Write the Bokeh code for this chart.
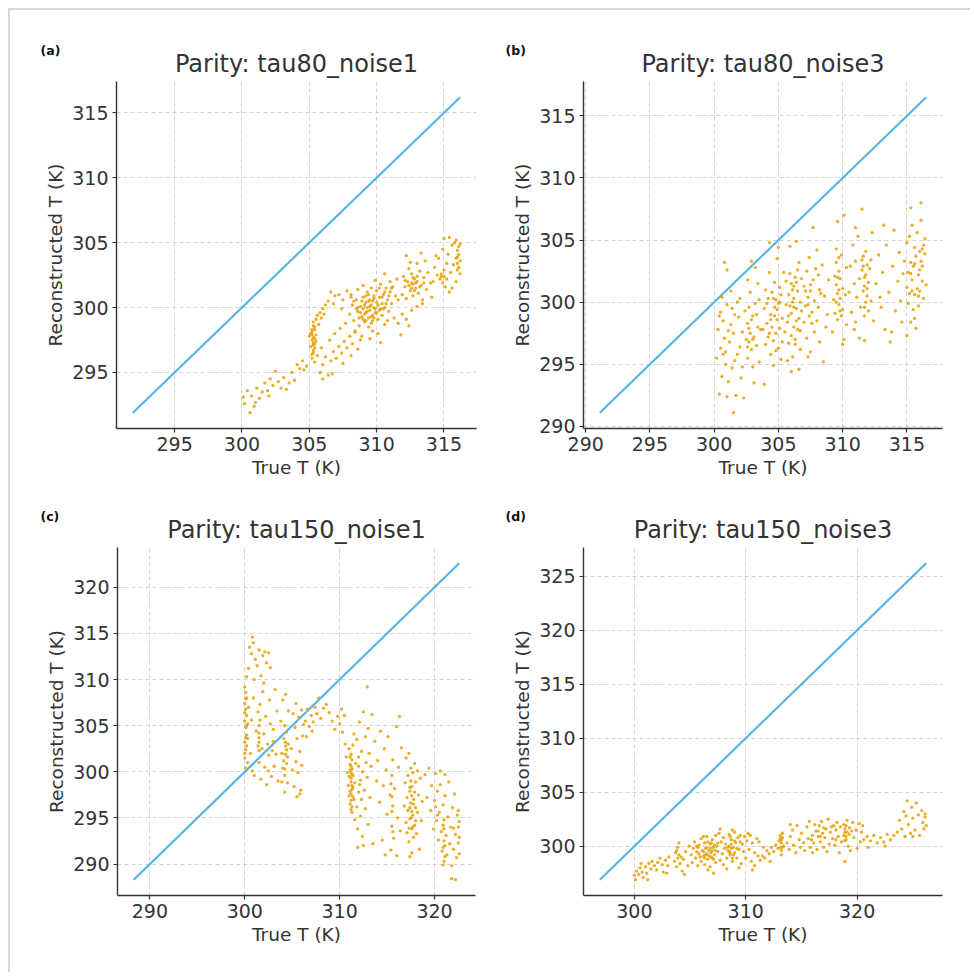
from bokeh.plotting import figure
from bokeh.layouts import column, row
from bokeh.models import Range1d, FixedTicker, Title
from bokeh.embed import file_html
from bokeh.resources import INLINE

# ---------------- data (True T, Reconstructed T) ----------------
titles = ["Parity: tau80_noise1", "Parity: tau80_noise3",
          "Parity: tau150_noise1", "Parity: tau150_noise3"]
letters = ["(a)", "(b)", "(c)", "(d)"]
x_label = "True T (K)"
y_label = "Reconstructed T (K)"

a_xticks = [295, 300, 305, 310, 315]
a_yticks = [295, 300, 305, 310, 315]
b_xticks = [290, 295, 300, 305, 310, 315]
b_yticks = [290, 295, 300, 305, 310, 315]
c_xticks = [290, 300, 310, 320]
c_yticks = [290, 295, 300, 305, 310, 315, 320]
d_xticks = [300, 310, 320]
d_yticks = [300, 305, 310, 315, 320, 325]

a_points = [
    (300.1,293.1),(300.2,292.6),(300.4,293.6),(300.6,291.9),(300.7,293.2),(300.9,292.4),(301.1,293.8),
    (301.3,293.0),(301.5,293.5),(301.7,294.2),(301.9,293.6),(302.1,294.5),(302.3,294.0),(302.5,295.1),
    (302.7,294.3),(302.9,293.8),(303.1,294.6),(303.3,293.7),(303.5,294.2),(303.7,295.0),(303.9,294.4),
    (304.1,295.6),(304.3,295.3),(304.5,295.9),(304.8,295.5),(304.6,295.2),(302.0,293.2),(301.0,292.7),
    (305.2,296.4),(305.3,296.7),(305.1,297.0),(305.4,297.2),(305.2,297.5),(305.3,297.7),(305.5,297.9),
    (305.2,298.1),(305.4,298.3),(305.3,298.6),(305.1,298.0),(305.4,296.9),(305.5,297.4),(305.3,298.9),
    (305.5,299.1),(305.6,299.4),(305.8,299.6),(306.0,299.9),(306.2,300.2),(306.4,300.5),(305.7,298.7),
    (305.9,299.2),(306.1,299.5),(305.2,296.1),(305.4,295.8),(305.6,296.3),(305.0,297.8),(305.3,297.3),
    (305.8,295.0),(306.0,295.6),(306.2,296.2),(306.4,294.8),(306.6,295.9),(306.8,296.6),(307.0,296.1),
    (307.2,297.0),(307.4,296.5),(307.6,297.4),(307.8,296.9),(308.0,297.8),(308.2,297.2),(308.4,298.1),
    (308.6,296.8),(308.8,297.5),(306.5,297.5),(306.9,298.0),(307.3,298.4),(307.7,298.8),(306.0,294.5),
    (306.7,294.9),(307.5,295.7),(308.1,296.3),(305.9,296.9),
    (306.6,301.2),(306.9,300.9),(307.2,301.0),(307.5,300.6),(307.8,301.3),(308.1,300.8),(306.8,300.3),
    (307.4,299.9),
    (308.0,299.5),(308.2,300.2),(308.3,299.0),(308.5,300.6),(308.6,299.7),(308.7,298.6),(308.8,300.1),
    (308.9,299.3),(309.0,300.8),(309.0,299.9),(309.1,298.9),(309.2,300.4),(309.2,299.6),(309.3,301.2),
    (309.3,300.0),(309.4,299.2),(309.4,298.5),(309.5,300.6),(309.5,299.8),(309.6,301.5),(309.6,300.2),
    (309.7,299.4),(309.7,298.2),(309.8,300.9),(309.8,300.0),(309.9,299.6),(310.0,301.3),(310.0,300.4),
    (310.1,299.1),(310.1,298.0),(310.2,300.8),(310.2,299.8),(310.3,301.8),(310.4,300.3),(310.4,299.4),
    (310.5,301.0),(310.6,300.0),(310.6,298.7),(310.7,301.5),(310.8,300.6),(310.9,299.7),(311.0,301.2),
    (311.0,302.0),(311.1,300.3),(311.2,301.6),(311.3,299.2),(311.4,300.9),(311.5,302.2),(308.4,298.2),
    (308.9,297.8),(309.5,297.6),(310.3,297.3),(309.0,301.7),(309.9,302.1),(310.6,302.6),(308.1,301.0),
    (308.6,301.4),(309.6,298.8),(310.8,299.0),(311.6,300.6),(309.2,299.0),(309.4,300.5),(309.8,299.2),
    (310.5,299.9),(308.8,299.6),
    (308.6,300.0),(308.9,300.5),(309.1,299.5),(309.3,299.7),(309.5,300.1),(309.7,300.5),(309.9,299.9),
    (310.1,300.2),(309.0,299.1),(309.2,300.9),(309.6,299.3),(309.8,300.7),(310.3,299.9),(310.0,299.6),
    (309.4,301.0),(308.7,299.2),(308.5,299.9),(310.4,300.8),(310.7,300.3),(310.9,300.9),(311.1,301.5),
    (310.2,301.5),(309.1,300.2),(309.7,299.0),(308.3,300.5),(310.6,301.2),
    (305.3,297.1),(305.2,297.9),(305.4,298.5),(305.3,296.5),(305.2,298.3),(305.4,297.6),
    (311.6,298.8),(311.9,299.5),(312.2,299.1),(312.6,299.8),(313.0,300.1),(313.4,300.3),(311.8,297.9),
    (312.4,298.6),
    (311.9,301.0),(312.0,302.4),(312.1,301.6),(312.2,300.7),(312.3,302.0),(312.4,303.0),(312.5,301.3),
    (312.6,302.6),(312.7,301.8),(312.7,300.9),(312.8,302.2),(312.9,301.5),(313.0,303.4),(313.0,302.0),
    (313.1,301.1),(313.2,302.8),(313.3,301.7),(313.4,300.6),(313.5,302.3),(313.6,303.6),(313.7,301.4),
    (313.8,302.7),(314.0,301.9),(314.1,300.8),(312.5,303.5),(312.2,304.0),(313.3,304.2),(314.3,303.1),
    (312.9,301.9),(312.6,301.5),
    (312.6,301.9),(312.8,301.3),(313.0,302.4),(312.4,301.7),(313.2,301.6),(312.7,302.3),(313.5,301.9),
    (312.1,302.1),
    (314.5,302.5),(314.6,303.8),(314.7,302.2),(314.8,302.6),(314.9,304.5),(315.0,305.3),(315.0,302.9),
    (315.1,301.6),(315.2,303.4),(315.3,304.1),(315.4,301.2),(315.5,302.7),(315.6,304.8),(315.7,303.3),
    (315.8,305.0),(315.9,302.0),(316.0,303.9),(316.0,304.4),(316.1,303.1),(316.1,304.7),(316.2,302.6),
    (316.2,303.6),(315.9,305.2),(315.4,305.4),(314.4,304.0),(314.2,302.0),(316.0,302.9),(315.0,302.4),
    (314.9,301.9),(315.6,301.5),
    (316.0,303.4),(316.1,304.1),(315.9,303.8),(316.2,304.9),(314.8,302.4),(315.2,302.2),
]

b_points = [
    (300.2,295.5),(300.3,297.8),(300.4,292.6),(300.5,299.2),(300.5,296.3),(300.6,294.0),(300.7,298.5),
    (300.8,303.2),(300.8,297.1),(300.9,295.0),(301.0,302.6),(301.0,299.8),(301.1,293.6),(301.2,296.8),
    (301.3,298.2),(301.4,294.7),(301.5,297.5),(301.5,291.1),(301.6,299.0),(301.7,292.5),(301.8,295.8),
    (301.9,298.8),(302.0,296.4),(302.0,300.3),(302.1,293.9),(302.2,297.6),(300.6,300.4),(301.3,300.9),
    (302.2,294.8),(301.0,292.4),(300.4,298.9),(301.8,300.0),(302.3,292.3),(300.9,296.0),(301.6,295.3),
    (301.1,297.7),(301.4,299.5),(300.7,295.8),
    (302.5,297.0),(302.6,298.3),(302.6,295.5),(302.7,299.6),(302.7,296.8),(302.8,297.5),(302.8,300.8),
    (302.9,296.2),(303.0,298.9),(303.0,294.8),(303.1,297.2),(303.2,299.9),(303.2,302.8),(303.3,296.5),
    (303.4,298.0),(303.4,301.5),(303.5,295.2),(303.5,300.2),(302.9,303.3),(303.1,293.5),(302.4,299.3),
    (303.6,297.8),(303.3,299.0),(302.6,301.8),(302.7,297.9),(302.9,298.6),(302.6,296.4),(303.0,297.0),
    (303.8,297.8),(303.9,299.5),(304.0,296.6),(304.0,301.0),(304.1,298.3),(304.2,300.3),(304.2,297.2),
    (304.3,302.4),(304.4,299.0),(304.4,295.8),(304.5,300.8),(304.5,298.0),(304.6,296.9),(304.7,301.6),
    (304.7,299.6),(304.8,297.5),(304.8,300.2),(304.9,303.5),(304.9,298.6),(305.0,296.3),(305.0,299.9),
    (305.1,301.2),(305.1,297.9),(305.2,295.4),(305.2,300.6),(304.3,304.8),(305.0,304.4),(304.6,294.9),
    (303.9,293.4),(305.3,298.7),(304.1,299.9),(304.8,296.1),
    (304.6,300.3),(304.9,299.4),(305.1,300.0),(304.4,298.6),(304.3,297.5),(304.7,298.9),(305.4,302.4),
    (305.3,296.8),
    (305.5,297.6),(305.6,299.8),(305.6,301.7),(305.7,298.4),(305.8,296.7),(305.8,300.6),(305.9,302.3),
    (306.0,299.1),(306.0,297.3),(306.1,301.0),(306.1,295.6),(306.2,300.3),(306.2,298.0),(306.3,302.0),
    (306.3,296.6),(306.4,299.5),(306.4,301.6),(306.5,297.8),(306.5,300.9),(306.6,298.7),(306.6,303.2),
    (306.7,296.2),(306.7,300.0),(306.8,299.3),(306.8,301.9),(305.9,304.5),(306.4,304.9),(306.0,294.4),
    (306.6,294.6),(305.7,295.3),(306.2,299.6),(306.5,302.6),(305.8,298.9),(306.3,297.0),
    (306.1,300.0),(306.2,301.3),(305.9,299.7),(306.4,298.5),(306.0,301.5),(306.7,297.7),
    (307.0,298.4),(307.0,301.3),(307.1,299.7),(307.2,297.1),(307.2,302.5),(307.3,300.4),(307.4,298.9),
    (307.4,303.6),(307.5,300.9),(307.5,296.0),(307.6,299.2),(307.7,301.8),(307.8,297.6),(307.8,300.1),
    (307.9,302.7),(308.0,298.5),(308.0,304.2),(308.1,299.6),(308.2,296.8),(308.2,301.0),(307.3,295.6),
    (308.4,303.0),(308.6,300.5),(308.7,298.0),(308.5,295.2),(307.7,306.0),(308.9,301.8),(308.8,299.0),
    (307.3,299.8),(307.5,301.4),(307.1,300.9),(307.6,298.3),(308.3,300.7),(308.1,302.2),
    (309.3,300.2),(309.4,302.1),(309.4,299.1),(309.5,301.4),(309.5,303.2),(309.6,300.7),(309.6,298.6),
    (309.7,302.5),(309.7,299.8),(309.8,301.9),(309.8,300.3),(309.9,303.8),(309.9,298.9),(310.0,301.1),
    (310.0,299.4),(309.5,304.3),(310.1,297.0),(310.0,296.6),(309.6,306.5),(310.2,300.6),(310.3,302.8),
    (310.1,307.0),(309.2,297.6),(310.3,298.2),
    (309.7,301.0),(309.6,302.0),(309.8,299.3),(309.5,300.0),(309.7,303.6),
    (310.5,300.8),(310.6,302.9),(310.7,299.2),(310.8,304.6),(310.9,301.5),(311.0,298.4),(311.0,303.3),
    (311.1,300.4),(311.2,305.3),(311.3,301.9),(311.4,299.6),(311.5,302.6),(311.5,307.5),(311.6,300.9),
    (311.6,303.7),(311.7,301.3),(311.7,298.9),(311.8,302.2),(311.8,304.1),(311.9,300.5),(311.9,303.0),
    (312.0,301.6),(312.0,299.3),(312.1,302.7),(312.2,300.1),(311.3,297.1),(310.9,297.8),(312.3,305.6),
    (311.0,306.0),(312.4,298.5),(311.7,296.9),(312.2,303.4),
    (311.7,302.0),(311.8,300.0),(311.6,302.9),(311.9,301.1),(311.5,303.4),(311.7,299.6),
    (312.6,301.5),(312.8,303.8),(313.0,299.6),(313.1,302.4),(313.3,297.8),(313.4,304.6),(313.6,300.8),
    (313.7,296.8),(313.9,302.9),(314.0,305.8),(314.1,299.3),(314.3,301.7),(314.4,304.0),(314.6,298.4),
    (314.7,302.3),(313.2,306.2),(313.8,297.6),(314.5,300.1),(312.9,300.4),(314.8,303.3),
    (315.0,301.2),(315.0,304.8),(315.1,302.4),(315.1,299.9),(315.2,305.3),(315.2,300.7),(315.3,303.2),
    (315.3,298.4),(315.4,301.8),(315.4,306.2),(315.5,299.4),(315.5,302.9),(315.6,304.4),(315.6,300.6),
    (315.7,297.9),(315.7,303.7),(315.8,301.1),(315.8,305.6),(315.9,302.2),(315.9,299.7),(316.0,304.1),
    (316.0,300.9),(316.1,303.3),(316.1,306.6),(316.2,301.7),(316.2,302.9),(316.3,304.6),(316.3,300.3),
    (316.4,303.9),(316.5,301.4),(315.3,307.6),(316.1,308.0),(315.6,298.7),(316.4,305.1),(315.0,297.3),
    (315.3,302.3),(315.6,303.1),(315.9,300.5),(316.2,304.3),(315.4,300.9),(316.0,302.6),
]

c_points = [
    (300.0,301.5),(300.1,302.4),(300.0,303.2),(300.2,304.0),(300.1,304.8),(300.0,305.5),(300.2,306.1),
    (300.1,306.8),(300.0,307.4),(300.2,308.0),(300.1,308.6),(300.3,303.6),(300.3,305.2),(300.0,309.2),
    (300.2,310.3),(300.4,307.0),(300.3,301.0),(300.1,300.4),
    (300.0,302.0),(300.1,303.7),(300.2,305.0),(300.0,306.4),(300.1,307.9),(300.2,302.8),
    (300.4,311.2),(300.5,313.5),(300.7,312.8),(300.9,314.0),(301.1,312.2),(301.3,311.5),(301.5,313.2),
    (301.7,310.4),(301.9,312.6),(302.1,313.0),(302.3,311.8),(302.5,312.9),(300.8,314.6),(302.7,311.3),
    (301.0,310.0),(302.0,309.6),
    (300.6,302.0),(300.7,305.6),(300.8,300.1),(300.9,308.0),(301.0,299.6),(301.2,304.4),(301.4,306.5),
    (301.5,301.0),(301.5,303.2),(301.5,305.0),(301.6,307.3),(301.7,299.2),(301.8,302.5),(301.9,308.7),
    (302.0,304.1),(302.1,300.5),(302.2,306.0),(302.3,298.6),(302.4,303.0),(302.5,301.8),(302.6,307.8),
    (302.7,305.2),(302.8,299.5),(302.9,302.3),(303.0,304.6),(303.1,300.6),(303.2,308.9),(303.3,301.9),
    (303.4,306.6),(303.5,299.0),(301.5,302.3),(301.5,304.2),(302.5,300.1),(303.0,303.3),
    (301.5,303.7),(301.6,305.6),(301.4,302.8),
    (303.8,305.5),(303.9,302.0),(304.0,307.8),(304.0,300.4),(304.1,303.6),(304.1,301.2),(304.2,305.0),
    (304.2,299.6),(304.3,302.8),(304.3,308.4),(304.4,300.9),(304.4,304.3),(304.5,298.8),(304.5,301.6),
    (304.6,306.6),(304.2,297.8),(303.9,298.9),(304.6,303.0),
    (304.3,301.9),(304.4,302.4),(304.2,300.3),(304.3,303.2),
    (304.9,302.5),(305.0,300.2),(305.1,306.3),(305.2,298.4),(305.3,304.8),(305.4,301.1),(305.5,297.3),
    (305.5,303.6),(305.6,299.9),(305.7,305.9),(305.8,302.2),(305.9,298.0),(306.0,306.7),(306.0,300.7),
    (306.1,303.9),(306.2,305.1),(305.4,307.4),(305.8,297.6),
    (306.4,305.5),(306.6,306.8),(306.8,304.9),(307.0,306.1),(307.2,305.4),(307.4,307.0),(307.6,306.3),
    (307.8,308.0),(308.0,305.8),(308.3,306.9),(308.6,307.3),(308.9,306.4),(309.2,305.5),(309.5,304.6),
    (306.5,303.8),(307.1,304.4),
    (309.8,306.0),(310.0,305.2),(310.2,306.8),(310.3,304.3),(310.5,306.1),(310.6,303.0),(310.7,301.6),
    (310.8,299.9),(310.9,298.5),(311.0,302.5),(311.0,297.4),(311.1,300.8),(311.1,296.5),(311.2,299.3),
    (311.2,301.9),(311.3,298.1),(311.3,300.3),(311.3,295.6),(311.4,299.6),(311.4,302.9),(311.5,297.0),
    (311.5,304.1),(311.6,298.8),(311.6,294.8),(311.7,300.9),(311.8,296.2),(311.8,303.5),(311.9,293.8),
    (312.0,301.6),(312.0,297.8),(312.1,305.4),(312.2,299.1),(312.2,295.2),(312.3,302.2),(312.4,300.0),
    (312.4,293.0),(312.5,306.5),(312.6,298.0),(312.7,303.8),(312.7,296.0),(312.8,301.0),(312.9,299.4),
    (313.0,304.7),(313.0,294.3),(313.1,302.0),(313.2,297.2),(313.3,300.6),(313.4,306.2),(313.5,292.2),
    (312.9,309.2),(312.5,292.0),(311.9,291.8),
    (311.2,298.9),(311.3,299.7),(311.2,300.6),(311.1,297.9),(311.3,301.3),(311.2,296.9),
    (311.2,299.9),(311.3,298.5),(311.1,300.2),(311.2,297.6),(311.3,296.2),(311.1,301.6),(311.4,298.3),
    (311.2,295.9),(311.0,299.5),(311.4,297.3),(312.1,298.6),(312.3,297.0),(312.0,300.6),
    (313.7,303.3),(313.9,299.0),(314.0,301.2),(314.2,296.7),(314.3,304.4),(314.5,292.6),(314.6,298.5),
    (314.7,302.5),(314.8,291.0),(314.9,300.2),(315.0,295.4),(315.1,303.8),(315.3,297.5),(315.4,291.5),
    (315.5,299.6),(315.5,294.1),(315.6,296.3),(315.6,301.3),(315.7,292.8),(315.8,298.2),(316.0,304.9),
    (316.1,295.0),(316.2,300.5),(316.3,306.0),(316.4,293.6),(316.5,302.6),(316.0,290.9),(315.5,297.3),
    (315.5,295.7),(315.6,293.5),(315.4,298.7),
    (316.8,296.3),(316.9,298.8),(317.0,294.5),(317.0,301.5),(317.1,297.2),(317.1,293.4),(317.2,299.6),
    (317.2,295.8),(317.3,302.0),(317.3,292.4),(317.4,297.9),(317.4,294.9),(317.5,300.4),(317.5,296.6),
    (317.6,293.8),(317.6,298.4),(317.7,295.3),(317.7,299.9),(317.8,292.9),(317.8,297.0),(317.9,294.2),
    (317.9,300.9),(318.0,296.1),(318.0,298.9),(318.1,293.3),(318.2,295.6),(318.2,300.1),(318.3,297.5),
    (318.4,291.6),(318.5,299.3),(318.6,294.7),(318.7,296.8),(317.4,290.8),(317.6,291.2),
    (317.5,295.0),(317.6,297.4),(317.4,296.1),(317.7,294.0),(317.5,299.0),(317.3,293.9),(317.8,296.5),
    (317.6,295.7),(317.4,298.3),(318.0,294.7),(317.9,297.8),
    (319.0,299.7),(319.2,297.2),(319.4,300.4),(319.6,295.8),(319.7,298.5),(319.9,293.8),(320.0,296.9),
    (320.1,299.8),(320.2,294.7),(320.3,297.9),(320.4,292.6),(320.5,295.6),(320.6,298.6),(320.7,293.5),
    (320.8,291.4),(320.9,296.4),(320.9,294.2),(321.0,292.5),(321.0,290.3),(321.1,297.4),(321.2,293.1),
    (321.3,291.0),(321.4,295.1),(321.5,298.9),(321.6,292.2),(321.7,294.0),(321.8,289.8),(321.9,296.1),
    (322.0,291.6),(322.1,297.6),(322.2,293.2),(322.3,290.7),(322.4,295.3),(322.5,292.3),(322.6,294.6),
    (322.6,291.1),(321.8,288.4),(322.2,288.3),(320.6,300.1),(321.1,299.7),(322.0,293.9),(320.9,289.9),
    (321.0,293.8),(321.1,292.0),(320.9,291.8),(321.0,294.8),(321.1,290.8),(322.5,294.0),(322.6,292.9),
    (322.5,295.8),(320.1,296.2),(320.3,295.3),
]

d_points = [
    (300.0,297.3),(300.1,296.9),(300.2,297.7),(300.4,297.4),(300.5,298.0),(300.7,297.6),(300.8,297.1),
    (301.0,298.1),(301.1,297.5),(301.3,298.4),(301.5,297.9),(301.6,298.6),(301.8,298.2),(302.0,297.8),
    (302.1,298.5),(302.3,298.9),(302.5,298.3),(302.6,297.6),(302.8,298.7),(303.0,298.2),(303.1,299.0),
    (301.2,296.9),(300.6,298.4),(302.9,297.5),
    (303.6,298.6),(303.7,299.4),(303.8,298.1),(303.9,299.9),(303.9,298.9),(304.0,300.3),(304.0,299.2),
    (304.1,298.4),(303.8,299.6),(304.2,299.0),(304.3,297.7),(304.4,298.8),(304.6,299.5),(304.8,298.2),
    (304.9,300.0),(304.5,297.4),
    (305.1,299.2),(305.2,298.5),(305.3,299.8),(305.4,300.4),(305.5,298.9),(305.6,299.5),(305.7,298.2),
    (305.8,300.1),(305.9,299.0),(306.0,300.7),(306.0,298.6),(306.1,299.6),(306.2,299.1),(306.3,300.3),
    (306.3,298.3),(306.4,299.8),(306.5,299.3),(306.5,300.9),(306.6,298.8),(306.7,299.6),(306.8,300.2),
    (306.8,298.1),(306.9,299.4),(307.0,300.6),(307.0,298.9),(307.1,299.9),(307.2,299.2),(307.3,301.0),
    (307.3,298.5),(307.4,300.0),(307.5,299.5),(307.6,301.2),(307.7,298.7),(307.8,300.4),(307.9,299.3),
    (308.0,300.8),(308.0,298.3),(308.1,299.8),(308.2,300.2),(308.3,298.9),(308.4,299.6),(308.5,301.1),
    (308.5,300.0),(308.6,299.2),(308.7,300.6),(308.8,298.6),(308.9,299.9),(309.0,301.3),(309.0,299.4),
    (309.1,300.3),(309.2,298.9),(309.3,300.8),(309.4,299.7),(309.5,301.0),(309.6,298.4),(309.7,300.2),
    (309.8,299.5),(309.9,300.9),(310.0,298.9),(310.1,300.5),(310.3,299.7),(310.4,301.0),(310.5,298.6),
    (310.6,300.3),(310.8,299.4),(311.0,300.7),(311.1,299.1),(311.2,300.4),(306.6,297.8),(307.1,297.5),
    (308.3,297.9),(309.4,298.0),(306.2,300.9),(307.7,301.6),(308.8,301.5),(310.2,301.2),(306.9,299.0),
    (306.4,299.2),(308.6,299.4),(308.7,299.8),(305.7,299.9),(307.0,299.6),
    (306.2,299.5),(306.5,299.9),(306.7,299.1),(306.9,300.3),(307.1,298.8),(307.3,299.6),(307.5,300.3),
    (306.6,300.4),(306.3,298.9),(306.8,299.8),(307.2,300.1),(308.5,299.5),(308.7,300.2),(308.9,299.2),
    (308.6,300.9),(309.2,299.8),(309.0,300.5),(308.4,299.9),(308.8,298.9),(309.5,300.4),(305.8,299.3),
    (305.6,300.0),
    (311.3,298.7),(311.5,299.1),(311.7,298.9),(311.9,299.6),(312.1,299.3),(312.3,299.9),(312.5,299.5),
    (312.7,300.1),(312.9,299.8),(311.6,299.9),(312.2,298.6),(310.8,298.2),(310.6,297.8),
    (313.0,300.5),(313.1,299.9),(313.1,301.0),(313.2,300.3),(313.2,299.6),(313.3,300.8),(313.3,301.2),
    (313.4,300.0),(313.2,299.2),(313.1,300.7),(313.2,300.6),(313.3,299.9),
    (313.7,300.3),(313.9,299.7),(314.0,300.9),(314.2,301.5),(314.3,300.1),(314.5,299.4),(314.6,301.9),
    (314.8,300.6),(314.9,299.9),(315.0,301.2),(315.2,300.3),(315.3,299.6),(315.5,301.8),(315.6,300.7),
    (315.7,302.3),(315.8,299.9),(316.0,301.0),(316.1,300.3),(316.2,302.0),(316.3,301.4),(316.4,299.7),
    (316.5,300.9),(316.6,301.9),(316.7,300.4),(316.8,302.3),(316.9,301.2),(317.0,299.9),(317.1,300.8),
    (317.2,301.6),(317.4,302.5),(317.5,300.2),(317.6,301.3),(317.8,300.7),(317.9,301.9),(318.0,300.1),
    (318.1,301.5),(318.2,302.2),(318.3,300.9),(318.5,301.8),(318.6,300.4),(318.8,302.0),(318.9,301.3),
    (319.0,300.6),(319.0,301.9),(319.1,302.4),(319.2,300.0),(319.3,301.1),(319.4,299.6),(319.6,302.2),
    (319.7,300.8),(319.9,301.5),(320.0,299.8),(320.2,302.1),(320.3,300.4),(320.4,301.3),(320.5,301.9),
    (320.6,300.6),(318.4,299.4),(318.9,298.6),(317.3,299.5),(316.0,299.4),(314.0,302.0),(319.5,301.4),
    (318.9,301.6),
    (316.5,301.4),(316.7,300.9),(317.0,301.7),(318.8,301.0),(319.0,300.9),(319.1,301.3),(318.9,300.5),
    (318.1,300.6),(317.7,301.8),(315.9,300.6),(319.3,301.7),
    (320.9,300.9),(321.2,300.5),(321.5,301.0),(321.8,300.3),(322.1,300.8),(322.4,300.4),(322.7,301.1),
    (323.0,300.6),(323.3,301.0),(321.0,299.9),(322.5,300.0),
    (323.6,301.3),(323.8,302.4),(324.0,301.6),(324.2,303.2),(324.3,300.9),(324.5,304.2),(324.6,302.0),
    (324.8,301.2),(324.9,303.6),(325.0,302.6),(325.2,301.5),(325.3,304.0),(325.5,302.9),(325.6,301.0),
    (325.8,303.3),(325.9,302.2),(326.0,301.6),(326.1,302.7),(326.2,301.9),(326.1,303.0),(325.0,300.9),
    (324.4,302.8),
]

# ---------------- styling ----------------
FONT = "DejaVu Sans"
TXT = "#333333"
DOT = "#E69F00"
LINE = "#56B4E9"


def panel(points, title, letter, xticks, yticks, width, height, bl, br, bt, bb, letter_off):
    xs = [q[0] for q in points]
    ys = [q[1] for q in points]
    lo = min(min(xs), min(ys))
    hi = max(max(xs), max(ys))
    pad = 0.05 * (hi - lo)
    p = figure(width=width, height=height, output_backend="svg", toolbar_location=None,
               x_range=Range1d(lo - pad, hi + pad), y_range=Range1d(lo - pad, hi + pad),
               min_border_left=bl, min_border_right=br, min_border_top=bt, min_border_bottom=bb)
    p.outline_line_color = None
    p.background_fill_color = "white"
    p.border_fill_color = "white"

    main_title = Title(text=title, align="center", text_font=FONT, text_font_size="24px",
                       text_font_style="normal", text_color=TXT, standoff=7)
    p.add_layout(main_title, "above")
    letter_title = Title(text=letter, align="left", offset=letter_off, text_font=FONT,
                         text_font_size="12.5px", text_font_style="bold", text_color="#111111",
                         standoff=-27)
    p.add_layout(letter_title, "above")

    p.xaxis.ticker = FixedTicker(ticks=xticks)
    p.yaxis.ticker = FixedTicker(ticks=yticks)
    for ax in (p.xaxis, p.yaxis):
        ax.axis_line_color = TXT
        ax.axis_line_width = 1.4
        ax.major_tick_line_color = TXT
        ax.major_tick_line_width = 1.2
        ax.major_tick_out = 4
        ax.major_tick_in = 0
        ax.minor_tick_line_color = None
        ax.major_label_text_font = FONT
        ax.major_label_text_font_size = "19px"
        ax.major_label_text_color = TXT
        ax.axis_label_text_font = FONT
        ax.axis_label_text_font_size = "18.5px"
        ax.axis_label_text_font_style = "normal"
        ax.axis_label_text_color = TXT
        ax.major_label_standoff = 4
        ax.axis_label_standoff = 3
    p.xaxis.axis_label = x_label
    p.yaxis.axis_label = y_label

    p.grid.grid_line_color = "#c8c8c8"
    p.grid.grid_line_dash = "4 3"
    p.grid.grid_line_width = 0.8

    p.line([lo, hi], [lo, hi], line_color=LINE, line_width=2.2)
    p.scatter(xs, ys, size=3.3, marker="circle", fill_color=DOT, line_color=None, fill_alpha=0.85)
    return p


pa = panel(a_points, titles[0], letters[0], a_xticks, a_yticks, 480, 478, 106, 14, 71, 60, -76)
pb = panel(b_points, titles[1], letters[1], b_xticks, b_yticks, 480, 478, 93, 28, 71, 60, -78)
pc = panel(c_points, titles[2], letters[2], c_xticks, c_yticks, 480, 484, 107, 15, 59, 77, -77)
pd = panel(d_points, titles[3], letters[3], d_xticks, d_yticks, 480, 484, 93, 28, 59, 77, -78)

layout = column(row(pa, pb, spacing=0), row(pc, pd, spacing=0), spacing=0,
                styles={"margin-left": "8px", "margin-top": "8px",
                        "border-left": "2px solid #d9d9d9", "border-top": "2px solid #d9d9d9"})

open("out.html", "w").write(file_html(layout, INLINE))
